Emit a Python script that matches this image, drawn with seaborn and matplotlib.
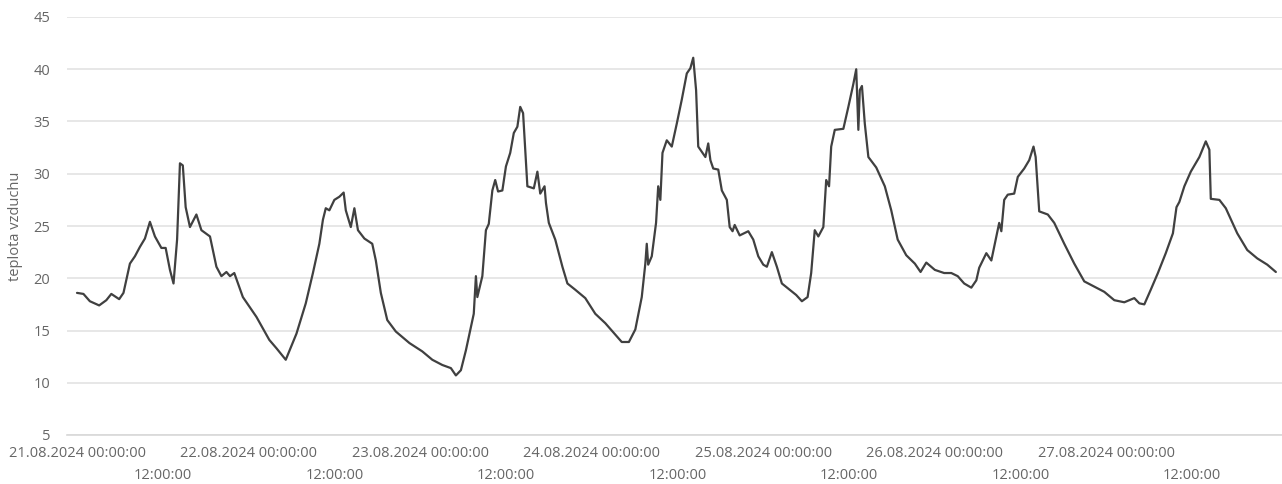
import pandas as pd
import numpy as np
import matplotlib
matplotlib.use("Agg")
import matplotlib.pyplot as plt
import matplotlib.dates as mdates
import seaborn as sns

# hodiny od 21.08.2024 00:00 a teplota vzduchu
hodiny = [
    0.0, 0.9, 1.8, 3.1, 4.1, 4.8, 5.9, 6.5, 7.4, 8.1, 8.8, 9.5, 10.2, 10.9, 11.8, 12.4,
    13.0, 13.5, 14.0, 14.4, 14.8, 15.2, 15.8, 16.7, 17.4, 18.6, 19.5, 20.2, 20.9, 21.4,
    22.0, 23.2, 25.1, 26.9, 27.9, 29.2, 30.7, 32.0, 33.0, 33.9, 34.4, 34.8, 35.3, 36.0,
    36.7, 37.3, 37.6, 38.3, 38.8, 39.3, 40.2, 41.3, 41.8, 42.5, 43.4, 44.6, 46.5, 48.3,
    49.7, 51.1, 52.3, 53.0, 53.7, 54.4, 55.0, 55.5, 55.8, 56.0, 56.7, 57.2, 57.6, 58.1,
    58.5, 58.9, 59.5, 60.0, 60.6, 61.1, 61.6, 62.0, 62.4, 63.0, 63.9, 64.4, 64.8, 65.4,
    65.6, 66.0, 66.9, 67.9, 68.6, 69.7, 71.1, 72.5, 73.9, 75.3, 76.2, 77.2, 78.1, 79.0,
    79.5, 79.7, 79.9, 80.4, 81.0, 81.3, 81.6, 81.9, 82.5, 83.2, 83.9, 84.6, 85.3, 85.8,
    86.2, 86.6, 86.9, 87.9, 88.3, 88.6, 89.0, 89.7, 90.2, 90.9, 91.3, 91.7, 92.0, 92.7,
    93.9, 94.6, 95.3, 96.0, 96.5, 97.2, 97.9, 98.6, 99.7, 100.6, 101.4, 102.2, 102.7,
    103.2, 103.7, 104.4, 104.8, 105.2, 105.5, 106.0, 107.2, 107.9, 108.6, 109.0, 109.3,
    109.5, 109.8, 110.2, 110.7, 111.8, 113.0, 113.9, 114.8, 116.0, 117.2, 118.0, 118.8,
    120.0, 121.3, 122.3, 123.2, 124.1, 125.1, 125.8, 126.2, 127.2, 127.9, 128.6, 129.0,
    129.3, 129.7, 130.2, 131.1, 131.6, 132.5, 133.2, 133.8, 134.1, 134.6, 135.8, 136.7,
    138.1, 139.5, 140.9, 142.3, 143.7, 145.1, 146.5, 147.9, 148.6, 149.3, 150.2, 151.2,
    152.3, 153.3, 153.8, 154.2, 154.9, 155.8, 157.0, 157.9, 158.4, 158.6, 159.8, 160.7,
    162.3, 163.7, 165.1, 166.5, 167.7,
]
teplota = [
    18.6, 18.5, 17.8, 17.4, 17.9, 18.5, 18.0, 18.6, 21.4, 22.1, 23.0, 23.8, 25.4, 24.0, 22.9, 22.9,
    20.8, 19.5, 23.7, 31.0, 30.8, 26.8, 24.9, 26.1, 24.6, 24.0, 21.1, 20.2, 20.6, 20.2,
    20.5, 18.2, 16.3, 14.1, 13.3, 12.2, 14.7, 17.6, 20.5, 23.3, 25.6, 26.7, 26.5, 27.5,
    27.8, 28.2, 26.5, 24.9, 26.7, 24.6, 23.8, 23.3, 21.7, 18.6, 16.0, 14.9, 13.8, 13.0,
    12.2, 11.7, 11.4, 10.7, 11.2, 13.1, 15.0, 16.6, 20.2, 18.2, 20.2, 24.6, 25.2, 28.4,
    29.4, 28.3, 28.4, 30.7, 32.0, 33.9, 34.5, 36.4, 35.8, 28.8, 28.6, 30.2, 28.1, 28.8,
    27.2, 25.3, 23.7, 21.1, 19.5, 18.9, 18.1, 16.6, 15.7, 14.6, 13.9, 13.9, 15.1, 18.2,
    21.4, 23.3, 21.3, 22.1, 25.3, 28.8, 27.5, 32.0, 33.2, 32.6, 34.8, 37.1, 39.6, 40.1,
    41.1, 38.0, 32.6, 31.6, 32.9, 31.3, 30.5, 30.4, 28.4, 27.5, 24.9, 24.5, 25.1, 24.1,
    24.5, 23.7, 22.1, 21.3, 21.1, 22.5, 21.1, 19.5, 18.9, 18.4, 17.8, 18.2, 20.5,
    24.6, 24.0, 24.9, 29.4, 28.8, 32.6, 34.2, 34.3, 36.4, 38.6, 40.0, 34.2,
    38.0, 38.4, 34.8, 31.6, 30.6, 28.8, 26.5, 23.7, 22.2, 21.4, 20.6, 21.5,
    20.8, 20.5, 20.5, 20.2, 19.5, 19.1, 19.8, 21.0, 22.4, 21.7, 24.0, 25.3,
    24.5, 27.5, 28.0, 28.1, 29.7, 30.5, 31.3, 32.6, 31.6, 26.4, 26.1, 25.3,
    23.3, 21.4, 19.7, 19.2, 18.7, 17.9, 17.7, 18.1, 17.6, 17.5, 18.9, 20.5,
    22.4, 24.3, 26.8, 27.3, 28.8, 30.2, 31.6, 33.1, 32.3, 27.6, 27.5, 26.7,
    24.3, 22.7, 21.9, 21.3, 20.6,
]
y_ticks = [5, 10, 15, 20, 25, 30, 35, 40, 45]

start = pd.Timestamp("2024-08-21 00:00:00")
df = pd.DataFrame({
    "cas": start + pd.to_timedelta(hodiny, unit="h"),
    "teplota vzduchu": teplota,
})

dny = pd.date_range(start, periods=8, freq="D")
poledne = dny[:-1] + pd.Timedelta(hours=12)
dny_popisky = [d.strftime("%d.%m.%Y %H:%M:%S") for d in dny[:-1]] + [""]
poledne_popisky = ["12:00:00"] * len(poledne)

sns.set_style("white")
plt.rcParams["font.family"] = ["Open Sans", "DejaVu Sans"]

fig = plt.figure(figsize=(12.82, 4.84), dpi=100)
ax = fig.add_axes([67 / 1282, 49 / 484, 1215 / 1282, 418 / 484])

sns.lineplot(data=df, x="cas", y="teplota vzduchu", ax=ax, color="#404040", linewidth=1.6)

ax.set_ylim(5, 45)
ax.set_yticks(y_ticks)
ax.yaxis.grid(True, color="#e3e3e3", linewidth=1.2)
ax.set_axisbelow(True)

x0 = mdates.date2num(start) - 1.4 / 24
x1 = mdates.date2num(start) + 168.56 / 24
ax.set_xlim(x0, x1)
ax.set_xticks(mdates.date2num(dny), labels=dny_popisky)
ax.set_xticks(mdates.date2num(poledne), labels=poledne_popisky, minor=True)

for s in ["top", "right", "left"]:
    ax.spines[s].set_visible(False)
ax.spines["bottom"].set_color("#d8d8d8")
ax.spines["bottom"].set_linewidth(1.2)

ax.tick_params(axis="y", length=0, pad=12, labelsize=10.5, labelcolor="#666666")
ax.tick_params(axis="x", which="major", length=5, width=1, color="#d0d0d0",
               pad=3, labelsize=10.5, labelcolor="#666666")
ax.tick_params(axis="x", which="minor", length=5, width=1, color="#d0d0d0",
               pad=19, labelsize=10.5, labelcolor="#666666")

ax.set_xlabel("")
ax.set_ylabel("teplota vzduchu", fontsize=10.5, color="#666666")
ax.yaxis.set_label_coords(-0.036, 0.5)

fig.savefig("out.png", dpi=100)
